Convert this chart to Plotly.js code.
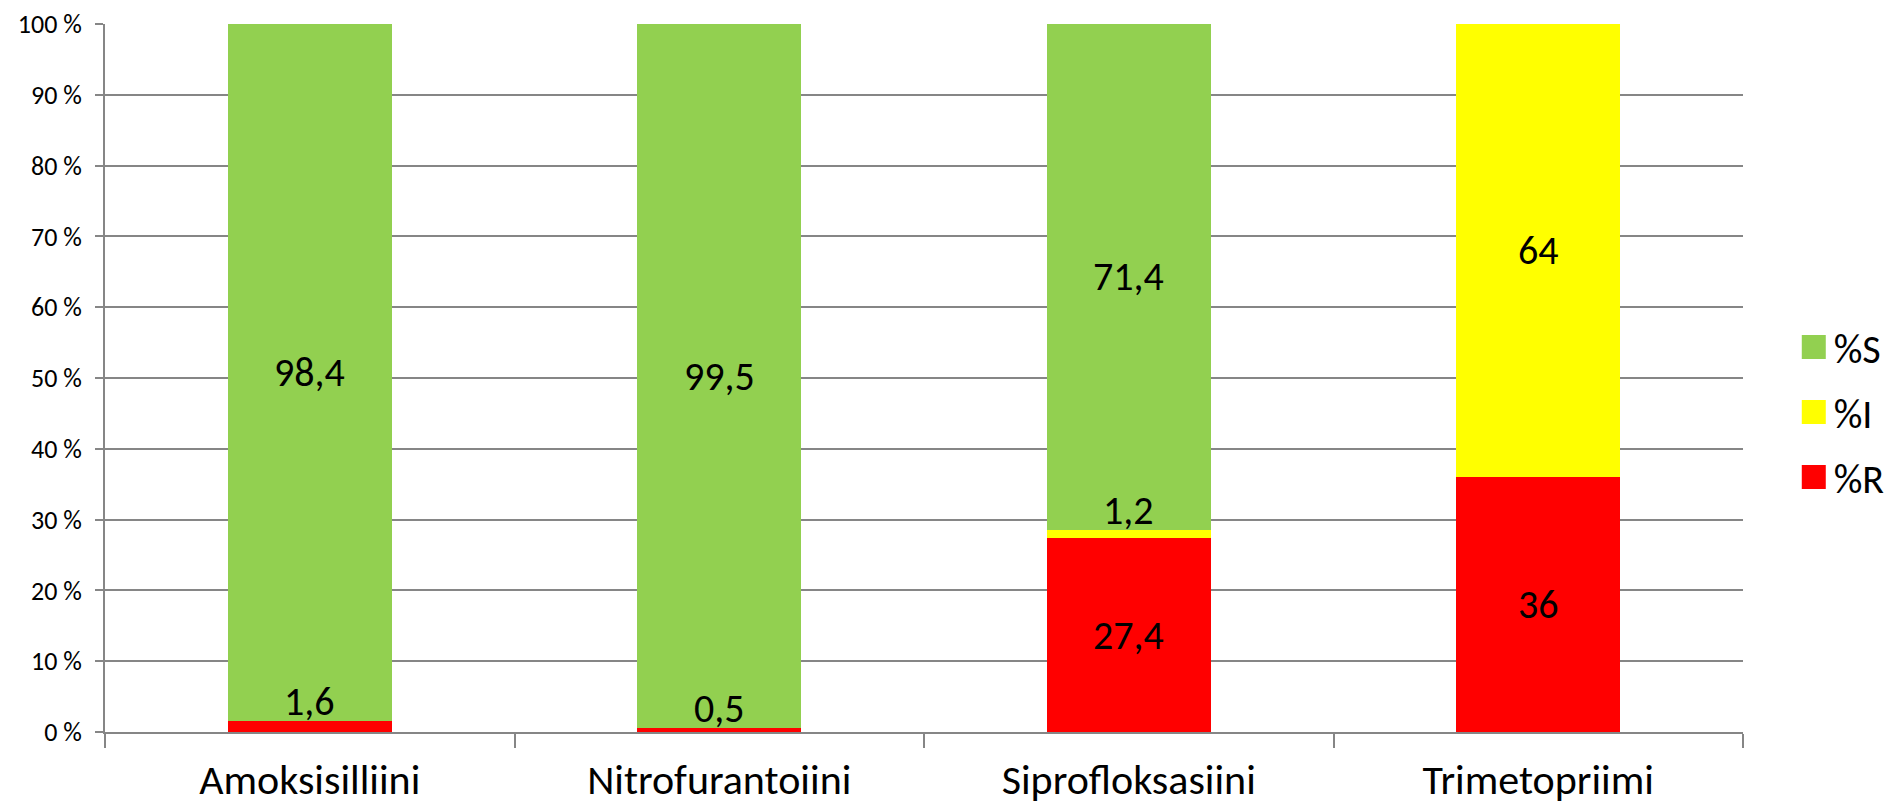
<!DOCTYPE html>
<html>
<head>
<meta charset="utf-8">
<script src="https://cdn.plot.ly/plotly-3.0.1.min.js"></script>
<style>html,body{margin:0;padding:0;background:#fff;}#chart{width:1897px;height:808px;}</style>
</head>
<body>
<div id="chart"></div>
<script>
const categories = ["Amoksisilliini", "Nitrofurantoiini", "Siprofloksasiini", "Trimetopriimi"];
const seriesNames = ["%R", "%I", "%S"];
const valuesR = [1.6, 0.5, 27.4, 36];
const valuesI = [0, 0, 1.2, 64];
const valuesS = [98.4, 99.5, 71.4, 0];
const tickVals = [0, 10, 20, 30, 40, 50, 60, 70, 80, 90, 100];
const tickLabels = ["0 %", "10 %", "20 %", "30 %", "40 %", "50 %", "60 %", "70 %", "80 %", "90 %", "100 %"];
const colors = ["#FF0000", "#FFFF00", "#92D050"];

const FONT = "Carlito, Lato, 'Open Sans', sans-serif";
const series = [valuesR, valuesI, valuesS];
const fmt = v => String(v).replace(".", ",");

const traces = series.map((vals, i) => ({
  type: "bar",
  name: seriesNames[i],
  legendgroup: seriesNames[i],
  legendrank: 1000 - i,
  x: categories,
  y: vals,
  width: 0.4,
  marker: {color: colors[i], line: {width: 0}},
  hoverinfo: "name+y"
}));

// data labels
const annotations = [];
categories.forEach((c, ci) => {
  let base = 0;
  series.forEach((vals, si) => {
    const v = vals[ci];
    if (v > 0) {
      const small = v < 5;
      annotations.push({
        x: c, y: small ? base + v : base + v / 2,
        xref: "x", yref: "y",
        text: fmt(v),
        showarrow: false,
        yanchor: small ? "bottom" : "middle",
        yshift: small ? -7 : 0,
        font: {family: FONT, size: 40, color: "#000"}
      });
    }
    base += v;
  });
});

const layout = {
  width: 1897, height: 808,
  margin: {l: 105, r: 154, t: 24, b: 76, autoexpand: false},
  barmode: "stack",
  paper_bgcolor: "#fff", plot_bgcolor: "#fff",
  showlegend: true,
  legend: {
    x: 1.031, xanchor: "left", y: 0.452, yanchor: "middle",
    traceorder: "grouped",
    font: {family: FONT, size: 40, color: "#000"},
    tracegroupgap: 10
  },
  xaxis: {
    type: "category",
    showline: true, linecolor: "#868686", linewidth: 2,
    ticks: "outside", tickson: "boundaries", ticklen: 14, tickcolor: "#868686", tickwidth: 2,
    tickfont: {family: FONT, size: 42, color: "#000"},
    ticklabelstandoff: 10,
    showgrid: false
  },
  yaxis: {
    range: [0, 100],
    tickvals: tickVals, ticktext: tickLabels,
    showline: true, linecolor: "#868686", linewidth: 2,
    ticks: "outside", ticklen: 8, tickcolor: "#868686", tickwidth: 2,
    ticklabelstandoff: 8,
    showgrid: true, gridcolor: "#868686", gridwidth: 2,
    tickfont: {family: FONT, size: 26, color: "#000"},
    zeroline: false
  },
  annotations: annotations
};

Plotly.newPlot("chart", traces, layout, {displayModeBar: false, staticPlot: true}).then(gd => {
  gd.querySelectorAll(".legend .legendpoints path").forEach(p => {
    const t = p.getAttribute("transform") || "";
    p.setAttribute("transform", t + " scale(2)");
  });
});
</script>
</body>
</html>
